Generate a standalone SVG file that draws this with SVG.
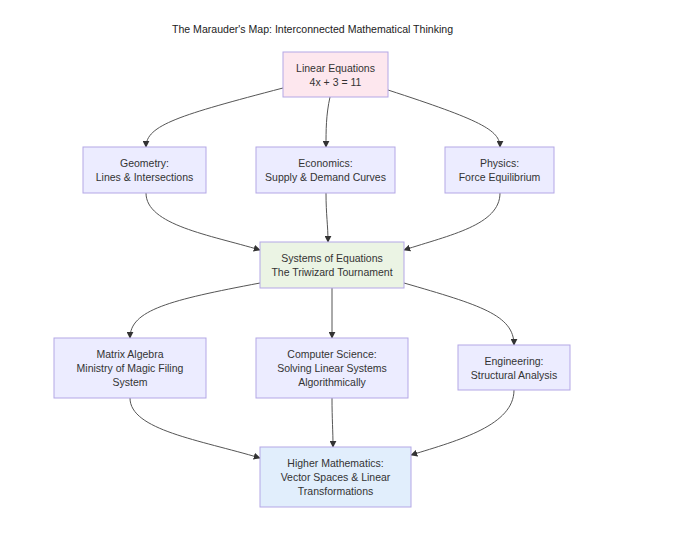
<svg xmlns="http://www.w3.org/2000/svg" width="680" height="556" viewBox="0 0 680 556">
<defs>
<style>
.n rect{fill:#ececff;stroke:#b4a7e6;stroke-width:1}
.t{font-family:"Liberation Sans","DejaVu Sans",sans-serif;font-size:10.5px;fill:#333;text-anchor:middle}
.title{font-family:"Liberation Sans","DejaVu Sans",sans-serif;font-size:11.5px;fill:#222;text-anchor:middle}
.e path{fill:none;stroke:#555;stroke-width:1;marker-end:url(#a)}
</style>
<marker id="a" viewBox="0 0 10 10" refX="9" refY="5" markerWidth="7" markerHeight="7" orient="auto"><path d="M0,0L10,5L0,10z" fill="#333"/></marker>
</defs>
<rect width="680" height="556" fill="#fff"/>
<text class="title" x="312.5" y="33" textLength="281" lengthAdjust="spacingAndGlyphs">The Marauder's Map: Interconnected Mathematical Thinking</text>
<g class="e">
<path d="M283,88 C180,115 146,125 146,147"/>
<path d="M330,97 C326,115 326,130 326,147"/>
<path d="M388,90 C480,120 500,130 500,147"/>
<path d="M146,193 C146,225 210,235 260,250"/>
<path d="M326,193 C326,215 328,225 328,242"/>
<path d="M500,193 C500,225 450,235 404,250"/>
<path d="M260,283 C170,300 130,310 130,338"/>
<path d="M332,288 L332,338"/>
<path d="M404,283 C480,305 514,315 514,345"/>
<path d="M130,398 C130,430 200,440 260,458"/>
<path d="M332,398 C332,420 333,430 333,447"/>
<path d="M514,390 C514,425 460,440 411,455"/>
</g>
<g id="linear" class="n"><rect x="283" y="52" width="105" height="45" style="fill:#fde7ee"/><text class="t" x="335.5" y="72">Linear Equations</text><text class="t" x="335.5" y="86">4x + 3 = 11</text></g>
<g id="geometry" class="n"><rect x="83" y="147" width="123" height="46"/><text class="t" x="144.5" y="167">Geometry:</text><text class="t" x="144.5" y="181">Lines &amp; Intersections</text></g>
<g id="economics" class="n"><rect x="256" y="147" width="139" height="46"/><text class="t" x="325.5" y="167">Economics:</text><text class="t" x="325.5" y="181">Supply &amp; Demand Curves</text></g>
<g id="physics" class="n"><rect x="445" y="147" width="109" height="46"/><text class="t" x="499.5" y="167">Physics:</text><text class="t" x="499.5" y="181">Force Equilibrium</text></g>
<g id="systems" class="n"><rect x="260" y="242" width="144" height="46" style="fill:#ebf4e4"/><text class="t" x="332" y="262">Systems of Equations</text><text class="t" x="332" y="276">The Triwizard Tournament</text></g>
<g id="matrix" class="n"><rect x="54" y="338" width="152" height="60"/><text class="t" x="130" y="358">Matrix Algebra</text><text class="t" x="130" y="372">Ministry of Magic Filing</text><text class="t" x="130" y="386">System</text></g>
<g id="cs" class="n"><rect x="256" y="338" width="152" height="60"/><text class="t" x="332" y="358">Computer Science:</text><text class="t" x="332" y="372">Solving Linear Systems</text><text class="t" x="332" y="386">Algorithmically</text></g>
<g id="engineering" class="n"><rect x="458" y="345" width="112" height="45"/><text class="t" x="514" y="365">Engineering:</text><text class="t" x="514" y="379">Structural Analysis</text></g>
<g id="higher" class="n"><rect x="260" y="447" width="151" height="60" style="fill:#e1eefc"/><text class="t" x="335.5" y="467">Higher Mathematics:</text><text class="t" x="335.5" y="481">Vector Spaces &amp; Linear</text><text class="t" x="335.5" y="495">Transformations</text></g>
</svg>
